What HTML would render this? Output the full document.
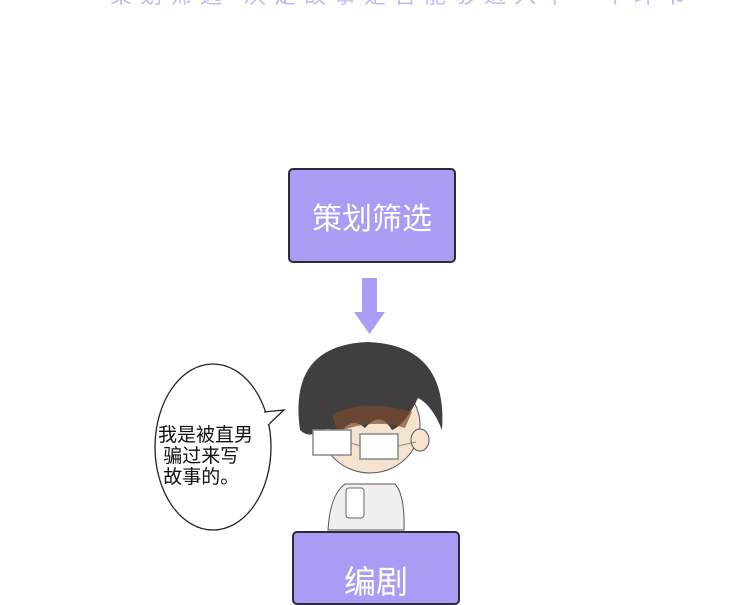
<!DOCTYPE html>
<html><head><meta charset="utf-8"><style>
body{margin:0;width:750px;height:586px;background:#fff;overflow:hidden;position:relative;font-family:"Liberation Sans","Noto Sans CJK SC",sans-serif}
.box{position:absolute;background:#a99cf5;border:2px solid #2e2a3a;border-radius:5px;color:#fff;display:flex;align-items:center;justify-content:center;font-size:30px}
</style></head><body>
<div style="position:absolute;left:110px;top:-22px;width:540px;height:20px;color:#9b8de8;font-size:22px;letter-spacing:8px;opacity:.6;white-space:nowrap">策划筛选 决定故事是否能够进入下一个环节</div>
<div class="box" style="left:288px;top:168px;width:164px;height:91px">策划筛选</div>
<svg width="750" height="586" style="position:absolute;left:0;top:0">
<polygon points="362,278 377,278 377,312 385,312 369.5,334 354,312 362,312" fill="#a99cf5"/>
<ellipse cx="213" cy="447" rx="58" ry="83" fill="#fff" stroke="#222" stroke-width="1.3"/>
<path d="M264,412 L284,410 L268,425" fill="#fff" stroke="#222" stroke-width="1.3"/>
<path d="M265,413 L268,424" stroke="#fff" stroke-width="3"/>
<path d="M328,530 Q330,495 345,484 L395,484 Q405,495 404,530 Z" fill="#f2f0ee" stroke="#555" stroke-width="1"/>
<rect x="346" y="488" width="18" height="30" rx="3" fill="#fff" stroke="#666"/>
<ellipse cx="370" cy="425" rx="50" ry="48" fill="#f6e3cf" stroke="#555"/>
<ellipse cx="420" cy="440" rx="9" ry="11" fill="#f6e3cf" stroke="#555"/>
<path d="M300,430 Q288,345 368,342 Q448,345 442,430 Q432,405 418,398 Q405,425 392,430 Q380,410 365,428 Q350,415 340,435 Q330,425 318,432 Q308,438 300,430 Z" fill="#403e3e"/>
<path d="M332,415 Q365,398 412,412 L405,428 Q372,418 338,432 Z" fill="#7a4a30" opacity=".7"/>
<rect x="313" y="430" width="38" height="25" fill="#fff" stroke="#888" stroke-width="1.5"/>
<rect x="360" y="434" width="38" height="25" fill="#fff" stroke="#888" stroke-width="1.5"/>
<line x1="351" y1="443" x2="360" y2="446" stroke="#888"/>
<line x1="398" y1="446" x2="416" y2="442" stroke="#888"/>
</svg>
<div style="position:absolute;left:158px;top:425px;font-size:19px;line-height:21px;color:#111;white-space:nowrap">我是被直男<br>&nbsp;骗过来写<br>&nbsp;故事的。</div>
<div class="box" style="left:292px;top:531px;width:164px;height:70px;align-items:flex-start"><span style="margin-top:24px;font-size:32px">编剧</span></div>
</body></html>
